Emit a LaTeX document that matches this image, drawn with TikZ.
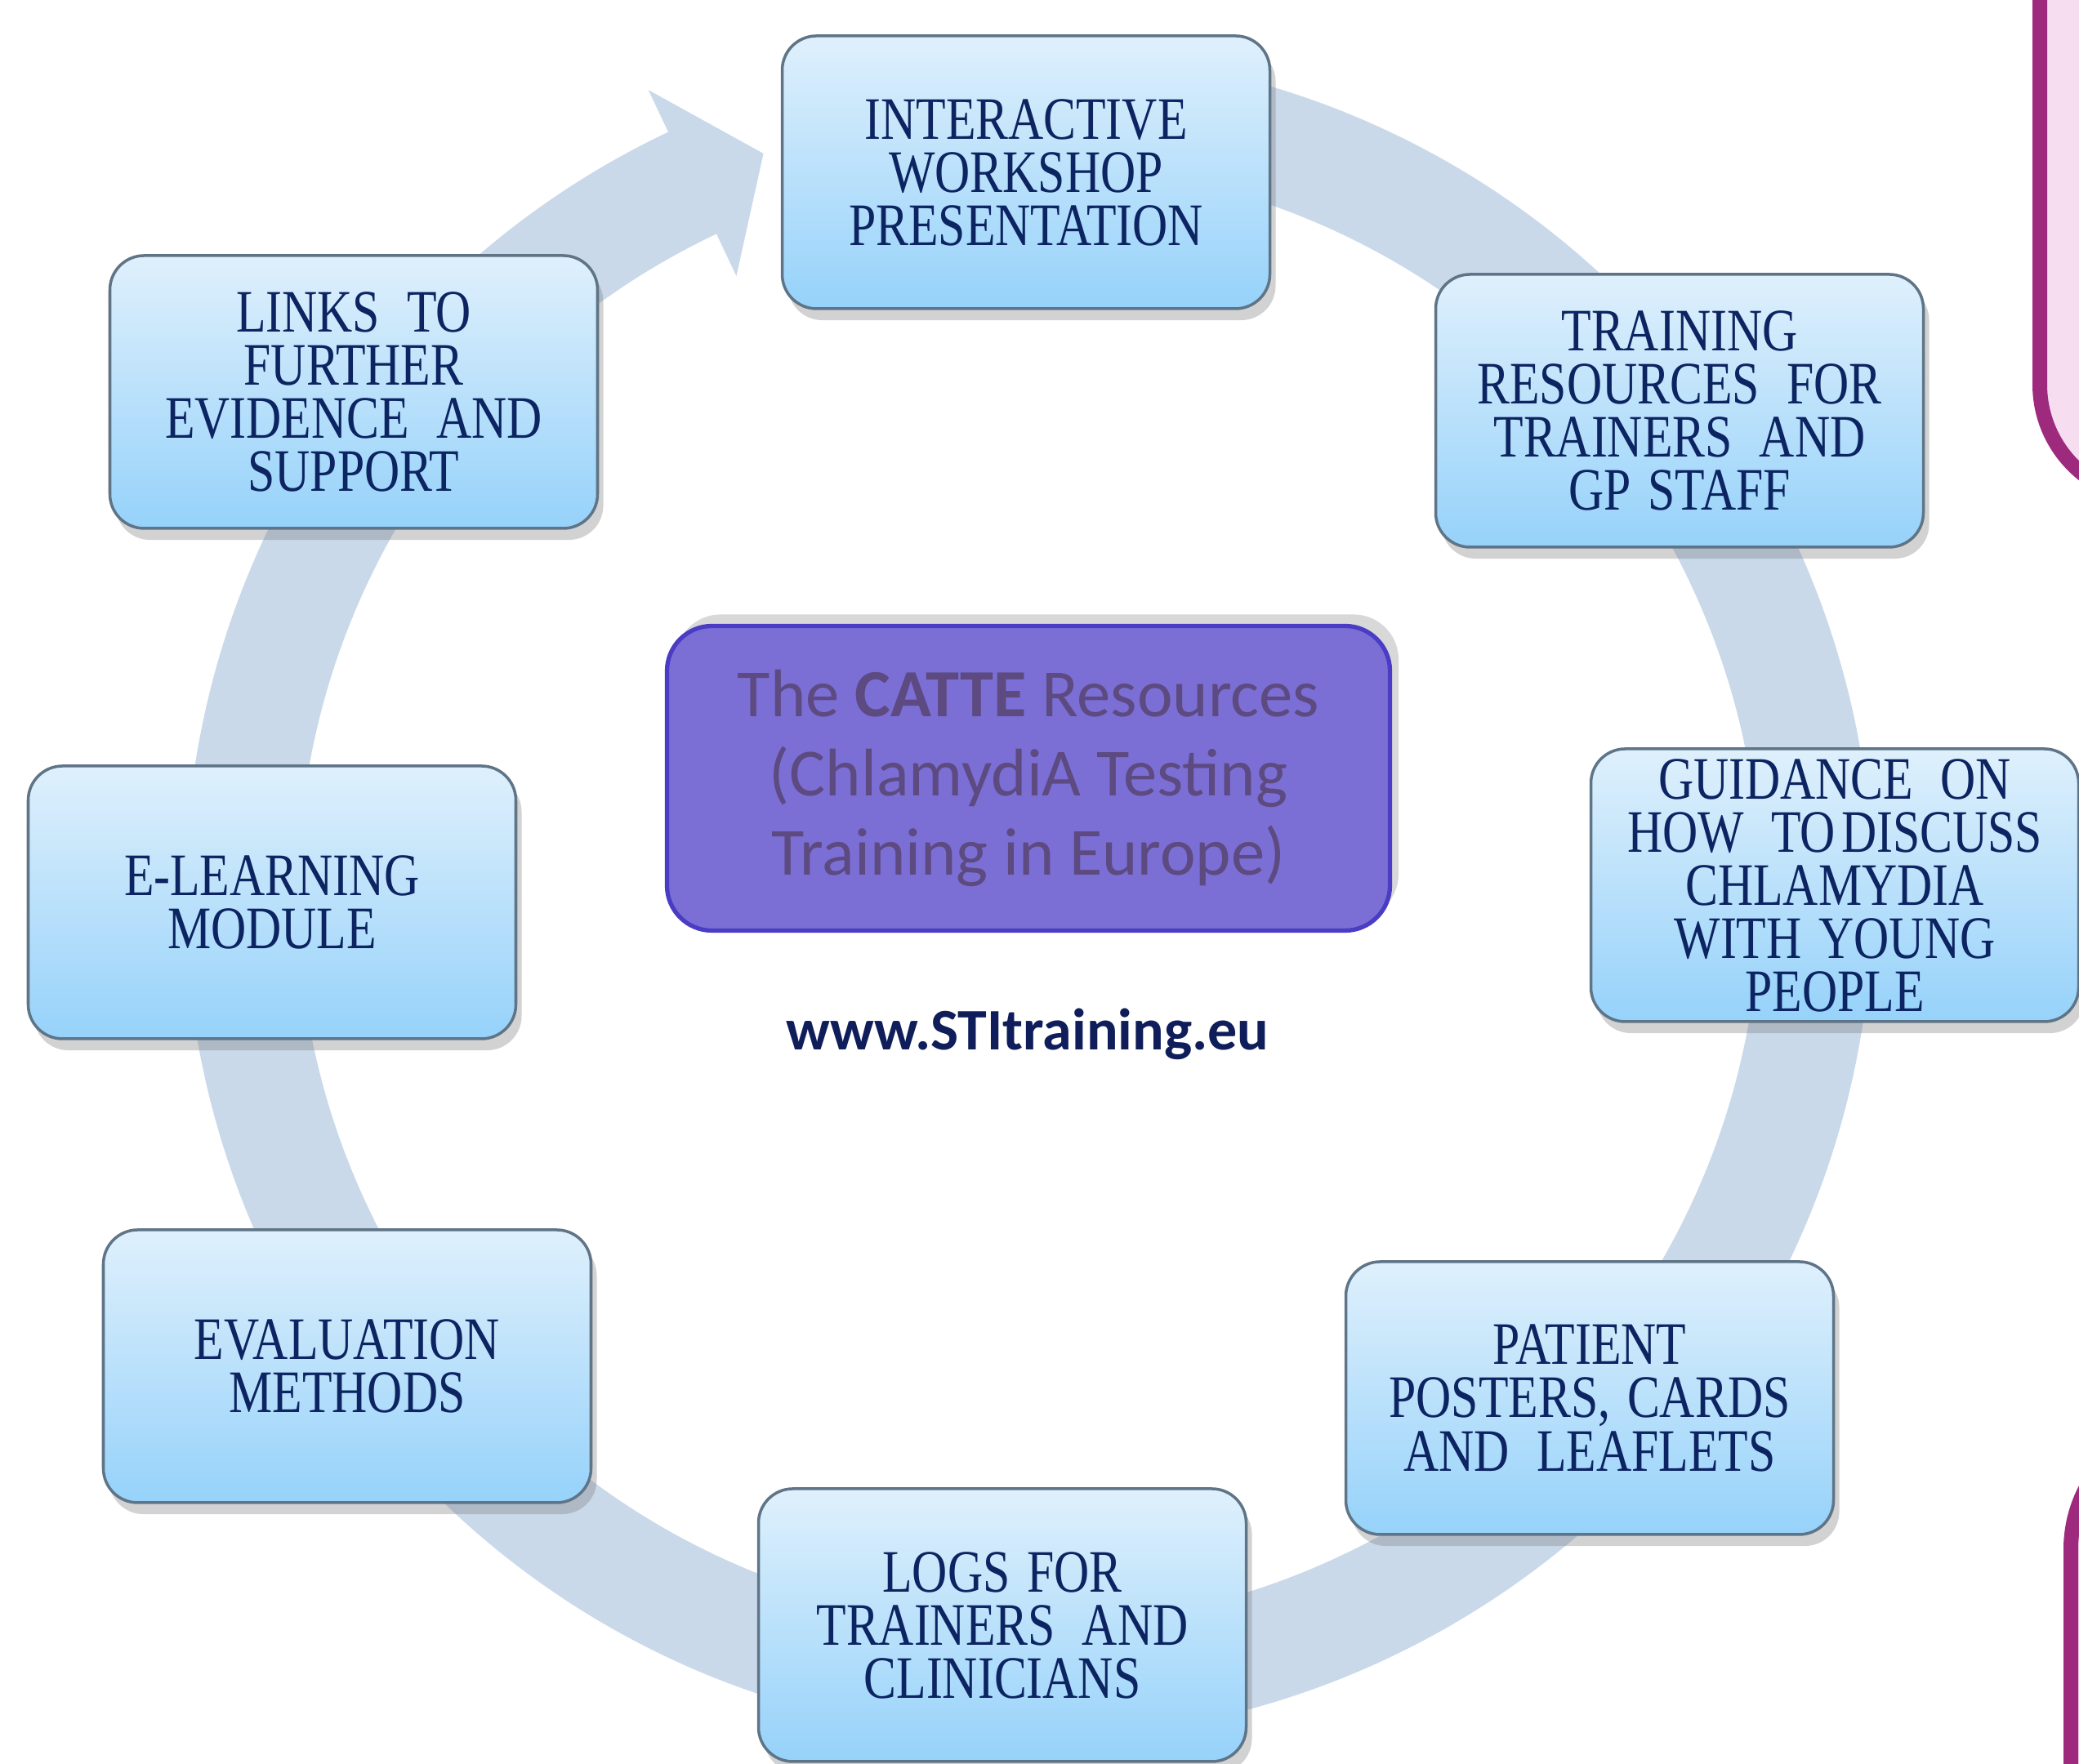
\documentclass[tikz,border=0pt]{standalone}
\usepackage{fontspec}
\usetikzlibrary{calc,shadows}
\newfontfamily\boxfam[FakeStretch=0.81,WordSpace=1.4]{Liberation Serif}
\newfontfamily\calfam{Carlito}
\newcommand\wsp{\hspace{0.45em}}
\definecolor{ringc}{RGB}{201,217,234}
\definecolor{boxtop}{RGB}{223,240,252}
\definecolor{boxbot}{RGB}{150,210,250}
\definecolor{boxline}{RGB}{95,117,135}
\definecolor{boxtext}{RGB}{12,36,97}
\definecolor{cfill}{RGB}{123,111,214}
\definecolor{cline}{RGB}{74,60,196}
\definecolor{ctext}{RGB}{92,74,128}
\definecolor{urlc}{RGB}{15,30,90}
\definecolor{pinkfill}{RGB}{246,221,240}
\definecolor{magline}{RGB}{158,42,126}
\tikzset{
  stage/.style={rectangle, rounded corners=0.42cm, minimum width=5.97cm, minimum height=3.34cm,
    top color=boxtop, bottom color=boxbot, draw=boxline, line width=1pt, align=center,
    text=boxtext, font=\boxfam\fontsize{21}{18.5}\selectfont, inner sep=0pt,
    drop shadow={shadow xshift=2pt, shadow yshift=-4pt, opacity=0.35}},
  hub/.style={rectangle, rounded corners=0.55cm, minimum width=8.85cm, minimum height=3.73cm,
    fill=cfill, draw=cline, line width=1.5pt, align=center, text=ctext,
    font=\calfam\fontsize{23.5}{27.6}\selectfont, inner sep=0pt,
    drop shadow={shadow xshift=3pt, shadow yshift=4pt, opacity=0.3}},
  urltext/.style={text=urlc, font=\calfam\bfseries\fontsize{20.5}{24}\selectfont},
  ring/.style={fill=ringc},
  tab/.style={fill=pinkfill, draw=magline, line width=0.18cm}
}
\begin{document}
\begin{tikzpicture}
\useasboundingbox (0,0) rectangle (25.45,21.6);
\fill[white] (0,0) rectangle (25.45,21.6);
\coordinate (C) at (12.595,10.644);
% circular arrow
\fill[ring] ($(C)+(80:10.33)$) arc[start angle=80,end angle=-244.7,radius=10.33]
  -- ($(C)+(-244.7:10.9)$) -- ($(C)+(-250.3:9.64)$) -- ($(C)+(-244.7:8.38)$)
  -- ($(C)+(-244.7:8.95)$) arc[start angle=-244.7,end angle=80,radius=8.95] -- cycle;
% stages
\node[stage] (iwp) at (12.56,19.49) {INTERACTIVE\\WORKSHOP\\PRESENTATION};
\node[stage] (train) at (20.56,16.57) {TRAINING\\RESOURCES\wsp FOR\\TRAINERS\wsp AND\\GP STAFF};
\node[stage] (guid) at (22.46,10.76) {GUIDANCE\wsp ON\\HOW\wsp TO\hspace{0.1em}DISCUSS\\CHLAMYDIA\\WITH YOUNG\\PEOPLE};
\node[stage] (pat) at (19.46,4.48) {PATIENT\\POSTERS, CARDS\\AND\wsp LEAFLETS};
\node[stage] (logs) at (12.27,1.70) {LOGS FOR\\TRAINERS\wsp AND\\CLINICIANS};
\node[stage] (eval) at (4.25,4.87) {EVALUATION\\METHODS};
\node[stage] (elearn) at (3.33,10.55) {E-LEARNING\\MODULE};
\node[stage] (links) at (4.33,16.80) {LINKS\wsp TO\\FURTHER\\EVIDENCE\wsp AND\\SUPPORT};
% hub
\node[hub] (hub) at (12.59,12.07) {The \textbf{CATTE} Resources\\(ChlamydiA Testing\\Training in Europe)};
\node[urltext] (url) at (12.58,8.94) {www.STItraining.eu};
% side tabs
\draw[tab] (24.97,21.9) -- (24.97,16.89) arc[start angle=180,end angle=270,radius=1.4] -- (27,15.49) -- (27,21.9) -- cycle;
\draw[tab] (25.35,-0.3) -- (25.35,2.63) arc[start angle=180,end angle=90,radius=1.6] -- (27,4.23) -- (27,-0.3) -- cycle;
\end{tikzpicture}
\end{document}
